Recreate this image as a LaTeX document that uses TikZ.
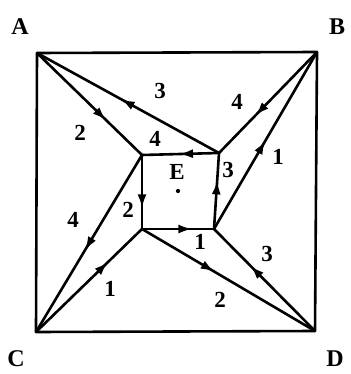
\documentclass[tikz,border=0pt]{standalone}
\usepackage{fontspec}
\setmainfont{Liberation Serif}
\usetikzlibrary{arrows.meta,decorations.markings}

\begin{document}
\begin{tikzpicture}[x=1pt,y=-1pt,
  edge/.style={line width=2.6pt,line cap=round,line join=round},
  flow/.style={edge,postaction={decorate},
    decoration={markings,mark=at position #1 with {\arrow{Latex[length=14pt,width=9pt]}}}},
  num/.style={font=\fontsize{23}{23}\selectfont\bfseries,inner sep=0pt},
  corner/.style={font=\fontsize{24}{24}\selectfont\bfseries,inner sep=0pt}]
  \useasboundingbox (0,0) rectangle (350,374);
  % outer square
  \coordinate (A) at (37,53);  \coordinate (B) at (317,52);
  \coordinate (C) at (36,332); \coordinate (D) at (315,331);
  % inner square round E
  \coordinate (Enw) at (142,155); \coordinate (Ene) at (219,153);
  \coordinate (Ese) at (214,229); \coordinate (Esw) at (142,229);
  \draw[edge] (A) -- (B) -- (D) -- (C) -- cycle;
  \node[corner] (lA) at (20,27) {A};
  \node[corner] (lB) at (337,27) {B};
  \node[corner] (lC) at (16,359) {C};
  \node[corner] (lD) at (335,359) {D};
  % spokes
  \draw[flow=0.66] (A) -- (Enw);
  \draw[flow=0.54] (Ene) -- (A);
  \draw[flow=0.63] (B) -- (Ene);
  \draw[flow=0.50] (Ese) -- (B);
  \draw[flow=0.54] (Enw) -- (C);
  \draw[flow=0.68] (C) -- (Esw);
  \draw[flow=0.42] (Esw) -- (D);
  \draw[flow=0.64] (D) -- (Ese);
  % sides of the inner square
  \draw[flow=0.52] (Ene) -- (Enw);
  \draw[flow=0.72] (Enw) -- (Esw);
  \draw[flow=0.70] (Esw) -- (Ese);
  \draw[flow=0.64] (Ese) -- (Ene);
  % labels
  \node[num] (nA2) at (80,133) {2};
  \node[num] (nA3) at (160,91) {3};
  \node[num] (nB4) at (237,102) {4};
  \node[num] (nB1) at (278,157) {1};
  \node[num] (nC4) at (73,220) {4};
  \node[num] (nC1) at (110,289) {1};
  \node[num] (nD2) at (220,300) {2};
  \node[num] (nD3) at (267,254) {3};
  \node[num] (nt4) at (155,139) {4};
  \node[num] (nr3) at (228,170) {3};
  \node[num] (nl2) at (128,210) {2};
  \node[num] (nb1) at (200,242) {1};
  \node[num] (lE) at (177,172) {E};
  \node[circle,fill,inner sep=1.5pt] (dotE) at (178,191) {};
\end{tikzpicture}
\end{document}
